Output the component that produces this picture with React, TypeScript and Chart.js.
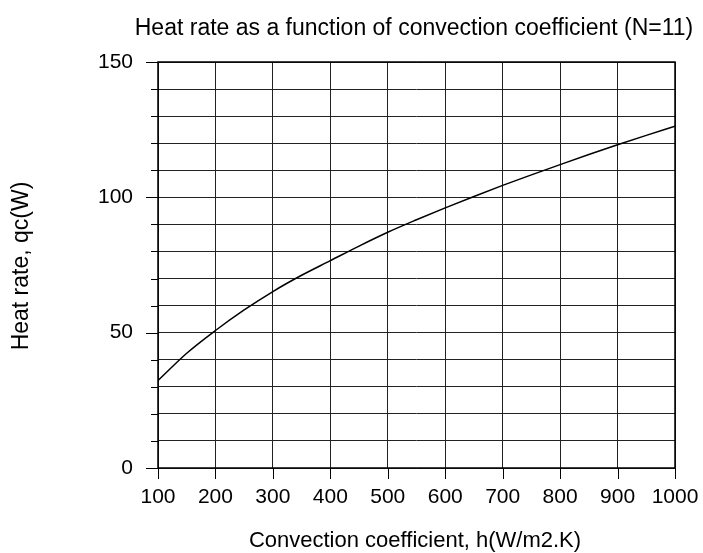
import React, { useEffect, useRef } from "react";
import { Chart, registerables } from "chart.js";

Chart.register(...registerables);

const hValues = [100, 150, 200, 250, 300, 350, 400, 450, 500, 550, 600, 650, 700, 750, 800, 850, 900, 950, 1000];
const qValues = [32.3, 42.4, 50.8, 58.4, 65.2, 71.2, 76.6, 82.0, 87.1, 91.7, 96.1, 100.3, 104.4, 108.3, 112.1, 115.8, 119.4, 122.9, 126.3];
const yMajorTicks = [0, 50, 100, 150];
const titleText = "Heat rate as a function of convection coefficient (N=11)";
const xLabelText = "Convection coefficient, h(W/m2.K)";
const yLabelText = "Heat rate, qc(W)";

const FONT = '"Liberation Sans", Arial, Helvetica, sans-serif';

const decorPlugin = {
  id: "decor",
  afterDraw(chart: any) {
    const { ctx, chartArea, scales } = chart;
    const xs = scales.x;
    const ys = scales.y;
    ctx.save();
    ctx.strokeStyle = "#000";
    ctx.lineWidth = 1.5;
    ctx.strokeRect(chartArea.left, chartArea.top, chartArea.right - chartArea.left, chartArea.bottom - chartArea.top);
    ctx.lineWidth = 1;
    for (let v = 0; v <= 150; v += 10) {
      const y = Math.round(ys.getPixelForValue(v)) + 0.5;
      const len = yMajorTicks.includes(v) ? 12 : 7;
      ctx.beginPath();
      ctx.moveTo(chartArea.left - len, y);
      ctx.lineTo(chartArea.left, y);
      ctx.stroke();
    }
    for (let v = 100; v <= 1000; v += 100) {
      const x = Math.round(xs.getPixelForValue(v)) + 0.5;
      ctx.beginPath();
      ctx.moveTo(x, chartArea.bottom);
      ctx.lineTo(x, chartArea.bottom + 11);
      ctx.stroke();
    }
    ctx.fillStyle = "#000";
    ctx.textAlign = "center";
    ctx.textBaseline = "alphabetic";
    ctx.font = `23px ${FONT}`;
    ctx.fillText(titleText, 414, 35);
    ctx.font = `22px ${FONT}`;
    ctx.fillText(xLabelText, 415, 547);
    ctx.font = `23px ${FONT}`;
    ctx.translate(28, 266);
    ctx.rotate(-Math.PI / 2);
    ctx.fillText(yLabelText, 0, 0);
    ctx.restore();
  },
};

export default function App() {
  const ref = useRef<HTMLCanvasElement | null>(null);
  useEffect(() => {
    if (!ref.current) return;
    const chart = new Chart(ref.current, {
      type: "line",
      data: {
        datasets: [
          {
            data: hValues.map((h, i) => ({ x: h, y: qValues[i] })),
            borderColor: "#000",
            borderWidth: 1.5,
            pointRadius: 0,
            fill: false,
            cubicInterpolationMode: "monotone",
          },
        ],
      },
      options: {
        responsive: false,
        animation: false,
        devicePixelRatio: 1,
        layout: { padding: { top: 62, right: 28, left: 0, bottom: 0 } },
        plugins: { legend: { display: false }, title: { display: false }, tooltip: { enabled: false } },
        scales: {
          x: {
            type: "linear",
            min: 100,
            max: 1000,
            afterFit: (s: any) => {
              s.height = 85;
              s.paddingLeft = 0;
              s.paddingRight = 0;
            },
            ticks: {
              stepSize: 100,
              color: "#000",
              font: { family: FONT, size: 21 },
              padding: 17,
              maxRotation: 0,
              callback: (v: any) => String(v),
            },
            grid: { color: "#222", lineWidth: 1, drawTicks: false },
            border: { display: false },
          },
          y: {
            type: "linear",
            min: 0,
            max: 150,
            afterFit: (s: any) => {
              s.width = 158;
              s.paddingTop = 0;
              s.paddingBottom = 0;
            },
            ticks: {
              stepSize: 10,
              color: "#000",
              font: { family: FONT, size: 21 },
              padding: 25,
              autoSkip: false,
              callback: (v: any) => (yMajorTicks.includes(Number(v)) ? String(v) : ""),
            },
            grid: { color: "#222", lineWidth: 1, drawTicks: false },
            border: { display: false },
          },
        },
      },
      plugins: [decorPlugin],
    });
    return () => chart.destroy();
  }, []);
  return (
    <div style={{ position: "fixed", left: 0, top: 0, width: 703, height: 553, background: "#fff" }}>
      <canvas ref={ref} width={703} height={553} />
    </div>
  );
}
